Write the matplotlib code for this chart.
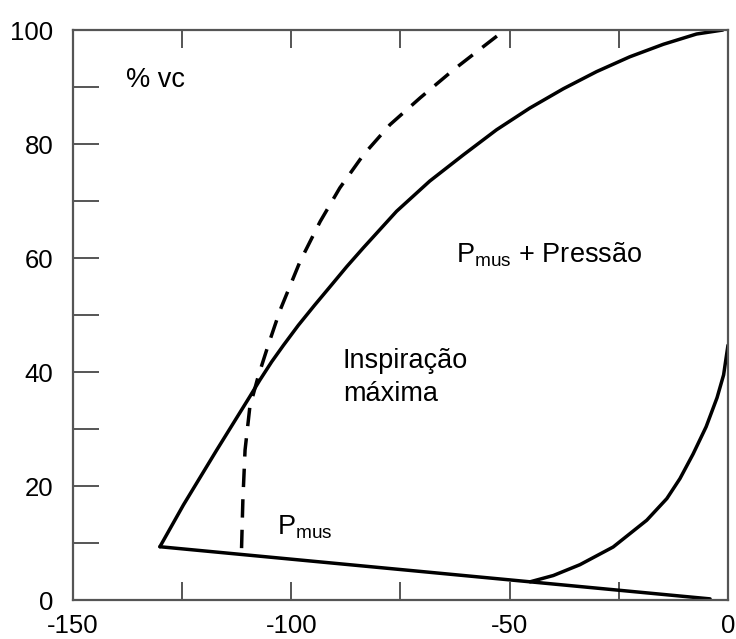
import matplotlib
matplotlib.use("Agg")
import matplotlib.pyplot as plt

plt.rcParams['font.family'] = ['Liberation Sans', 'DejaVu Sans']
plt.rcParams['mathtext.fontset'] = 'custom'
plt.rcParams['mathtext.rm'] = 'Liberation Sans'
plt.rcParams['mathtext.it'] = 'Liberation Sans'
plt.rcParams['axes.unicode_minus'] = False

# Maximal inspiration curve (solid)
insp_x = [-130.1, -124.7, -117.1, -109.5, -107.2, -104.5, -101.8, -98.4, -94.7, -91.1, -87.3, -83.5,
          -75.9, -68.3, -60.6, -53.0, -45.4, -37.7, -30.1, -22.5, -14.8, -7.2, -1.2]
insp_y = [9.35, 16.7, 26.3, 35.7, 38.6, 41.8, 44.7, 48.2, 51.7, 55.0, 58.5, 61.8,
          68.2, 73.5, 78.1, 82.5, 86.3, 89.7, 92.7, 95.3, 97.5, 99.3, 100.0]

# Dashed curve
dash_x = [-111.4, -111.1, -110.6, -109.5, -107.6, -105.3, -102.6, -98.0, -93.4, -88.9, -83.5,
          -77.4, -70.5, -62.9, -54.5, -51.8]
dash_y = [9.1, 17.5, 26.3, 33.9, 39.2, 44.7, 50.8, 59.4, 66.4, 72.3, 78.1,
          83.4, 88.1, 93.0, 98.0, 99.6]

# Pmus line (bottom)
pmus_x = [-130.1, -4.1]
pmus_y = [9.35, 0.2]

# Lower right curve
low_x = [-45.3, -40.0, -33.9, -26.3, -18.6, -14.0, -11.0, -8.0, -5.0, -2.5, -1.0, 0.0]
low_y = [3.2, 4.3, 6.2, 9.3, 14.0, 17.8, 21.3, 25.6, 30.4, 35.5, 39.5, 44.7]

x_labels = [-150, -100, -50, 0]
y_labels = [0, 20, 40, 60, 80, 100]

fig = plt.figure(figsize=(7.36, 6.39), dpi=100)
ax = fig.add_axes([0.0992, 0.061, 0.8899, 0.892])

lw = 2.5
ax.plot(insp_x, insp_y, color='black', lw=lw, solid_capstyle='round', solid_joinstyle='round')
ax.plot(pmus_x, pmus_y, color='black', lw=lw, solid_capstyle='round')
ax.plot(low_x, low_y, color='black', lw=lw, solid_capstyle='round', solid_joinstyle='round')
ax.plot(dash_x, dash_y, color='black', lw=lw, dashes=(5.3, 3.5))

ax.set_xlim(-150, 0)
ax.set_ylim(0, 100)
ax.set_xticks(x_labels)
ax.set_xticks([-125, -75, -25], minor=True)
ax.set_yticks(y_labels)
ax.set_yticks([10, 30, 50, 70, 90], minor=True)

spine_c = '#555555'
for s in ax.spines.values():
    s.set_color(spine_c)
    s.set_linewidth(1.6)

ax.tick_params(axis='both', which='both', direction='in', color=spine_c, width=1.4,
               labelsize=18.5, labelcolor='black')
ax.tick_params(axis='y', which='both', length=19, pad=14, left=True, right=False)
ax.tick_params(axis='x', which='both', length=13, pad=10, bottom=True, top=True)

fs = 19.5
ax.text(-137.9, 91.2, '% vc', fontsize=fs, va='center', ha='left')
ax.text(-88.2, 39.0, 'Inspiração\nmáxima', fontsize=fs, va='center', ha='left', linespacing=1.35)
ax.text(-62.3, 60.5, r'P$_{\mathrm{mus}}$ + Pressão', fontsize=fs, va='center', ha='left')
ax.text(-103.3, 12.8, r'P$_{\mathrm{mus}}$', fontsize=fs, va='center', ha='left')

fig.savefig('out.png', dpi=100)
